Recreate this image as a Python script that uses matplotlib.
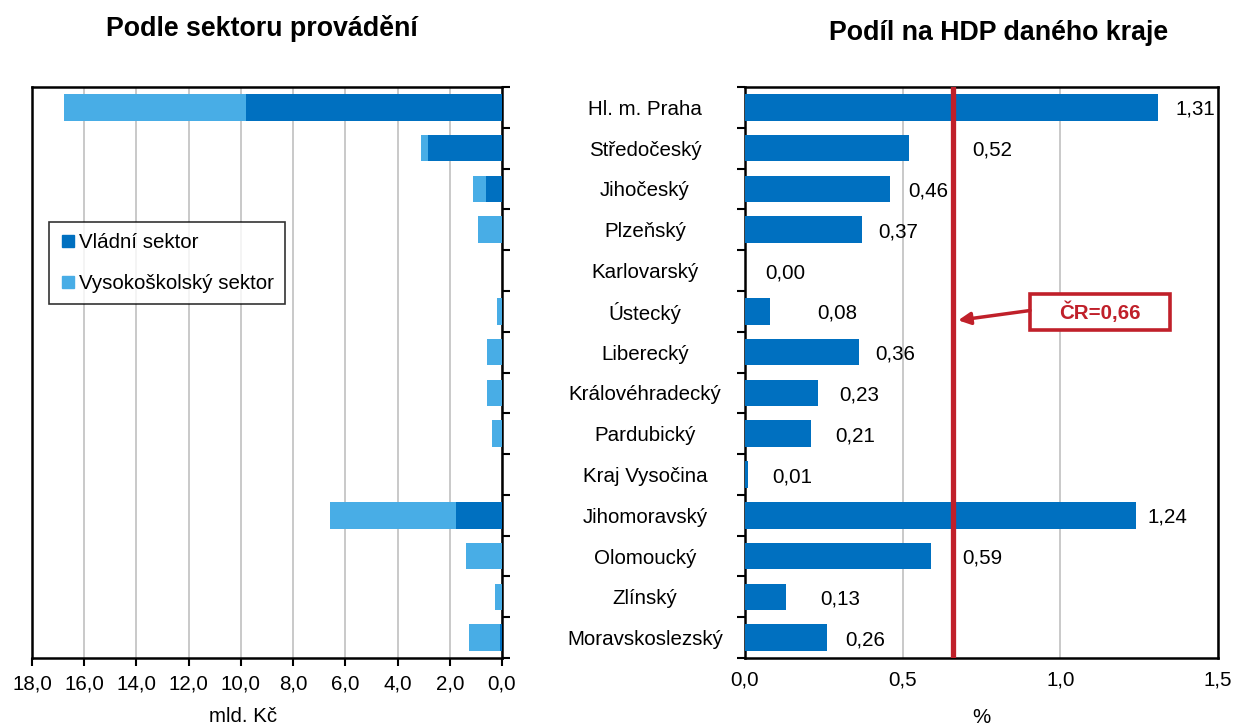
import matplotlib
matplotlib.use("Agg")
import matplotlib.pyplot as plt
from matplotlib.lines import Line2D
from matplotlib.patches import Rectangle
import numpy as np

plt.rcParams['font.family'] = ['Liberation Sans', 'DejaVu Sans']

regions = ["Hl. m. Praha", "Středočeský", "Jihočeský", "Plzeňský", "Karlovarský",
           "Ústecký", "Liberecký", "Královéhradecký", "Pardubický", "Kraj Vysočina",
           "Jihomoravský", "Olomoucký", "Zlínský", "Moravskoslezský"]
vladni = [9.82, 2.83, 0.62, 0.0, 0.0, 0.0, 0.0, 0.0, 0.0, 0.0, 1.77, 0.0, 0.0, 0.09]
vysokoskolsky = [6.95, 0.27, 0.50, 0.92, 0.0, 0.19, 0.56, 0.56, 0.38, 0.0, 4.80, 1.39, 0.28, 1.16]
hdp_podil = [1.31, 0.52, 0.46, 0.37, 0.00, 0.08, 0.36, 0.23, 0.21, 0.01, 1.24, 0.59, 0.13, 0.26]
cr_prumer = 0.66
left_ticks = [18, 16, 14, 12, 10, 8, 6, 4, 2, 0]
right_ticks = [0.0, 0.5, 1.0, 1.5]

# label x positions (data units) as placed in the original
label_x = [1.364, 0.72, 0.517, 0.422, 0.063, 0.23, 0.412, 0.30, 0.285, 0.086, 1.278, 0.69, 0.238, 0.317]

DARK = '#0070C0'
LIGHT = '#48ADE6'
RED = '#C0202A'
GRID = '#C0C0C0'
FS = 14.8

fig = plt.figure(figsize=(12.35, 7.27), dpi=100)
W, H = 1235, 727

def ax_rect(x0, x1, y0, y1):
    return [x0 / W, 1 - y1 / H, (x1 - x0) / W, (y1 - y0) / H]

axL = fig.add_axes(ax_rect(32, 502, 87, 658))
axR = fig.add_axes(ax_rect(745, 1218, 87, 658))

y = np.arange(len(regions))
bh = 0.65

# Left chart
axL.barh(y, vladni, height=bh, color=DARK, label='Vládní sektor', zorder=3)
axL.barh(y, vysokoskolsky, left=vladni, height=bh, color=LIGHT, label='Vysokoškolský sektor', zorder=3)
axL.set_xlim(18, 0)
axL.set_ylim(len(regions) - 0.5, -0.5)
axL.set_xticks(left_ticks)
axL.set_xticklabels([f"{v:.1f}".replace('.', ',') for v in left_ticks], fontsize=FS)
axL.xaxis.grid(True, color=GRID, linewidth=1.2, zorder=0)
axL.set_axisbelow(True)
axL.yaxis.tick_right()
axL.set_yticks(np.arange(-0.5, len(regions), 1.0))
axL.set_yticklabels([])
axL.tick_params(axis='y', direction='out', length=6, width=1.5, right=True, left=False)
axL.tick_params(axis='x', direction='out', length=6, width=1.5, pad=6)
axL.set_xlabel('mld. Kč', fontsize=FS)
axL.xaxis.set_label_coords((243 - 32) / 470, -(707 - 658) / 571)
for s in axL.spines.values():
    s.set_linewidth(1.8)
    s.set_color('black')

handles = [Line2D([0], [0], marker='s', linestyle='none', markersize=8, color=DARK),
           Line2D([0], [0], marker='s', linestyle='none', markersize=8, color=LIGHT)]
leg = fig.legend(handles, ['Vládní sektor', 'Vysokoškolský sektor'],
                 loc='upper left', bbox_to_anchor=(49 / W, 1 - 222 / H),
                 fontsize=FS, frameon=True, fancybox=False, edgecolor='black',
                 handlelength=0.7, handletextpad=0.2, labelspacing=1.05,
                 borderpad=0.55, borderaxespad=0)
leg.get_frame().set_linewidth(1.2)

# Right chart
axR.barh(y, hdp_podil, height=bh, color=DARK, zorder=3)
axR.set_xlim(0, 1.5)
axR.set_ylim(len(regions) - 0.5, -0.5)
axR.set_xticks(right_ticks)
axR.set_xticklabels([f"{v:.1f}".replace('.', ',') for v in right_ticks], fontsize=FS)
axR.xaxis.grid(True, color=GRID, linewidth=1.2, zorder=0)
axR.set_axisbelow(True)
axR.set_yticks(y)
axR.set_yticklabels(regions, fontsize=FS, ha='center')
axR.set_yticks(np.arange(-0.5, len(regions), 1.0), minor=True)
axR.tick_params(axis='y', which='major', length=0, pad=72)
axR.tick_params(axis='y', which='minor', direction='out', length=6, width=1.5)
axR.tick_params(axis='x', direction='out', length=0, pad=9)
axR.set_xlabel('%', fontsize=FS, labelpad=13)
for s in axR.spines.values():
    s.set_linewidth(1.8)
    s.set_color('black')

for yi, v, lx in zip(y, hdp_podil, label_x):
    axR.text(lx, yi + 0.05, f"{v:.2f}".replace('.', ','), fontsize=FS,
             va='center', ha='left', zorder=5)

axR.axvline(cr_prumer, color=RED, linewidth=3.8, zorder=4)

# annotation box for national average
box_x0, box_x1 = 0.904, 1.348
box_y0, box_y1 = 4.58, 5.47
axR.add_patch(Rectangle((box_x0, box_y0), box_x1 - box_x0, box_y1 - box_y0,
                        fc='white', ec=RED, lw=2.6, zorder=6))
axR.text((box_x0 + box_x1) / 2, 5.03, f"ČR={cr_prumer:.2f}".replace('.', ','),
         fontsize=FS, fontweight='bold', color=RED, ha='center', va='center', zorder=7)
axR.annotate('', xy=(cr_prumer + 0.016, 5.22), xytext=(box_x0, 4.98),
             arrowprops=dict(arrowstyle='-|>', color=RED, lw=2.5, mutation_scale=18,
                             shrinkA=0, shrinkB=0), zorder=6)

fig.text(262 / W, 1 - 28 / H, 'Podle sektoru provádění', fontsize=19.3,
         fontweight='bold', ha='center', va='center')
fig.text(999 / W, 1 - 33 / H, 'Podíl na HDP daného kraje', fontsize=19.3,
         fontweight='bold', ha='center', va='center')

fig.savefig('out.png', dpi=100)
